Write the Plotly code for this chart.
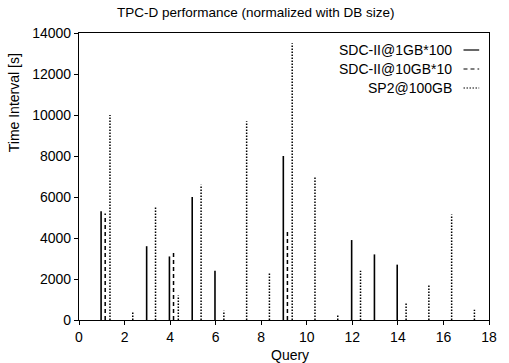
import plotly.graph_objects as go

queries = list(range(1, 18))
sdc_1gb = [5300, None, 3600, 3100, 6000, 2400, None, None, 8000, None, None, 3900, 3200, 2700, None, None, None]
sdc_10gb = [5200, None, None, 3400, None, None, None, None, 4400, None, None, None, None, None, None, None, None]
sp2_100gb = [10000, 400, 5500, 1200, 6600, 450, 9700, 2300, 13500, 7000, 250, 2400, None, 800, 1750, 5150, 500]
series_names = ["SDC-II@1GB*100", "SDC-II@10GB*10", "SP2@100GB"]
x_ticks = [0, 2, 4, 6, 8, 10, 12, 14, 16, 18]
y_ticks = [0, 2000, 4000, 6000, 8000, 10000, 12000, 14000]

FONT = "Liberation Sans, Arial, sans-serif"
styles = [("solid", -0.03, 1.6), ("4px,3px", 0.15, 1.5), ("1.5px,1.5px", 0.36, 1.5)]

fig = go.Figure()
for name, vals, (dash, off, lw) in zip(series_names, [sdc_1gb, sdc_10gb, sp2_100gb], styles):
    xs, ys = [], []
    for q, v in zip(queries, vals):
        if v is None:
            continue
        xs += [q + off, q + off, None]
        ys += [0, v, None]
    fig.add_trace(go.Scatter(x=xs, y=ys, mode="lines", name=name,
                             line=dict(color="black", width=lw, dash=dash),
                             showlegend=False, hoverinfo="skip"))

axis_common = dict(showgrid=False, zeroline=False, showline=True, linecolor="black",
                   linewidth=1.2, mirror=True, ticks="outside", ticklen=4,
                   tickcolor="black", tickwidth=1,
                   tickfont=dict(family=FONT, size=14, color="black"))
fig.update_xaxes(range=[0, 18], tickvals=x_ticks, tickformat="d", **axis_common)
fig.update_yaxes(range=[0, 14000], tickvals=y_ticks, tickformat="d", **axis_common)

W, H = 509, 363
L, R, T, B = 79, 12, 33, 43
pw, ph = W - L - R, H - T - B

def px(x):
    return (x - L) / pw

def py(y):
    return (H - B - y) / ph

fig.add_annotation(text="TPC-D performance (normalized with DB size)", xref="paper", yref="paper",
                   x=px(259), y=py(13), showarrow=False, xanchor="center", yanchor="middle",
                   font=dict(family=FONT, size=13.5, color="black"))
fig.add_annotation(text="Query", xref="paper", yref="paper",
                   x=px(294), y=py(355), showarrow=False, xanchor="center", yanchor="middle",
                   font=dict(family=FONT, size=14, color="black"))
fig.add_annotation(text="Time Interval [s]", xref="paper", yref="paper",
                   x=px(13), y=py(103), showarrow=False, xanchor="center", yanchor="middle",
                   textangle=-90, font=dict(family=FONT, size=14, color="black"))

legend_rows = [50, 69, 88]
for name, row, (dash, _, _) in zip(series_names, legend_rows, styles):
    fig.add_annotation(text=name, xref="paper", yref="paper", x=px(461), y=py(row),
                       showarrow=False, xanchor="right", yanchor="middle",
                       font=dict(family=FONT, size=14, color="black"))
    fig.add_shape(type="line", xref="paper", yref="paper", x0=px(471), x1=px(487),
                  y0=py(row), y1=py(row), line=dict(color="black", width=1.2, dash=dash))

fig.update_layout(width=W, height=H, margin=dict(l=L, r=R, t=T, b=B),
                  plot_bgcolor="white", paper_bgcolor="white", showlegend=False)
fig.write_html("out.html", config={"displayModeBar": False},
               post_script="document.body.style.margin='0';document.body.style.overflow='hidden';")
